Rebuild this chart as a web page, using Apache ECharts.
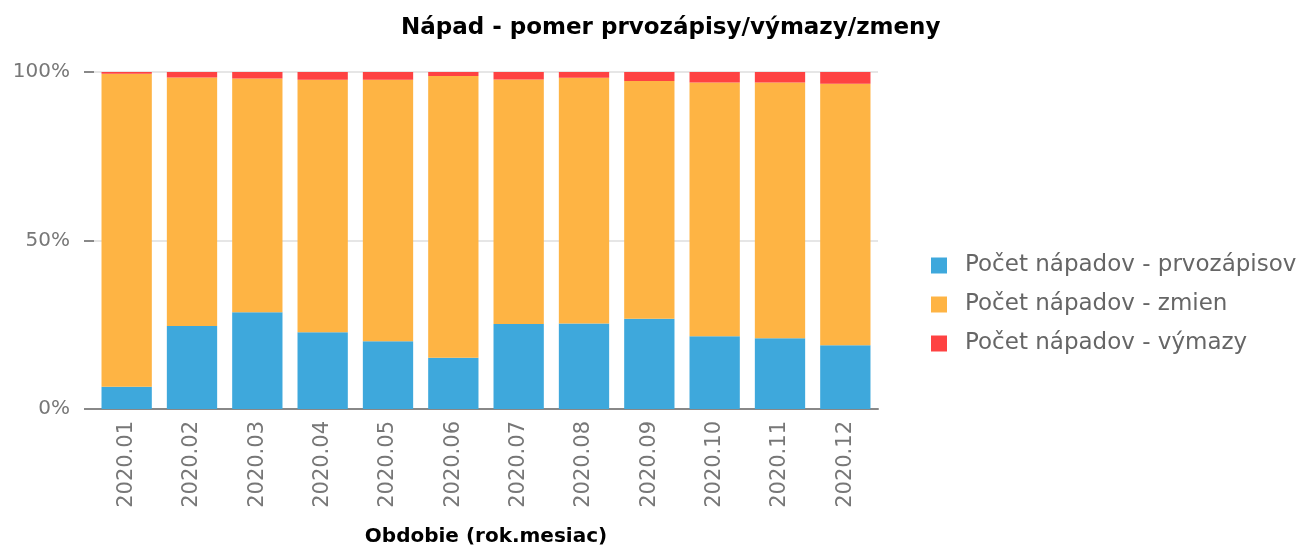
<!DOCTYPE html>
<html>
<head>
<meta charset="utf-8">
<script src="https://cdn.jsdelivr.net/npm/echarts@6/dist/echarts.min.js"></script>
<style>
  html, body { margin: 0; padding: 0; background: #fff; }
  #chart { width: 1299px; height: 550px; }
</style>
</head>
<body>
<div id="chart"></div>
<script>
// obdobia (rok.mesiac)
var months = ['2020.01', '2020.02', '2020.03', '2020.04', '2020.05', '2020.06',
              '2020.07', '2020.08', '2020.09', '2020.10', '2020.11', '2020.12'];
// podiely v % (odčítané z grafu)
var prvozapisy = [6.6, 24.6, 28.7, 22.8, 20.1, 15.2, 25.2, 25.4, 26.8, 21.6, 21.0, 18.9];
var zmeny      = [92.9, 73.8, 69.4, 74.9, 77.6, 83.6, 72.6, 72.9, 70.5, 75.3, 75.9, 77.6];
var vymazy     = [0.5, 1.6, 1.9, 2.3, 2.3, 1.2, 2.2, 1.7, 2.7, 3.1, 3.1, 3.5];
var yTicks = [0, 50, 100];

var font = 'DejaVu Sans';
var myChart = echarts.init(document.getElementById('chart'));

myChart.setOption({
  animation: false,
  textStyle: { fontFamily: font },
  title: {
    text: 'Nápad - pomer prvozápisy/výmazy/zmeny',
    left: 396,
    top: 12,
    textStyle: { fontFamily: font, fontSize: 23, fontWeight: 'bold', color: '#000' }
  },
  legend: {
    orient: 'vertical',
    left: 926,
    top: 249,
    itemWidth: 16,
    itemHeight: 16,
    itemGap: 16,
    icon: 'rect',
    textStyle: { fontFamily: font, fontSize: 23, color: '#666', padding: [0, 0, 0, 13] },
    data: ['Počet nápadov - prvozápisov', 'Počet nápadov - zmien', 'Počet nápadov - výmazy']
  },
  grid: { left: 94, right: 421, top: 72, bottom: 141, outerBoundsMode: 'none' },
  xAxis: {
    type: 'category',
    data: months,
    name: 'Obdobie (rok.mesiac)',
    nameLocation: 'middle',
    nameGap: 118,
    nameTextStyle: { fontFamily: font, fontSize: 20, fontWeight: 'bold', color: '#000' },
    axisLine: { lineStyle: { color: '#888', width: 2 } },
    axisTick: { alignWithLabel: false, length: 7, lineStyle: { color: '#888', width: 2 } },
    axisLabel: { rotate: 90, fontSize: 21, color: '#777', margin: 12 }
  },
  yAxis: {
    type: 'value',
    min: 0,
    max: 100,
    interval: 50,
    axisLine: { show: false },
    axisTick: { show: true, length: 10, lineStyle: { color: '#888', width: 2 } },
    axisLabel: {
      fontSize: 20, color: '#777', margin: 24,
      formatter: function (v) { return yTicks.indexOf(v) >= 0 ? v + '%' : ''; }
    },
    splitLine: { lineStyle: { color: '#e6e6e6', width: 2 } }
  },
  series: [
    {
      name: 'Počet nápadov - prvozápisov', type: 'bar', stack: 'a',
      barCategoryGap: '23%', data: prvozapisy,
      itemStyle: { color: '#3ea8dc' }
    },
    {
      name: 'Počet nápadov - zmien', type: 'bar', stack: 'a',
      data: zmeny,
      itemStyle: { color: '#feb444' }
    },
    {
      name: 'Počet nápadov - výmazy', type: 'bar', stack: 'a',
      data: vymazy,
      itemStyle: { color: '#fe4242' }
    }
  ]
});
</script>
</body>
</html>
